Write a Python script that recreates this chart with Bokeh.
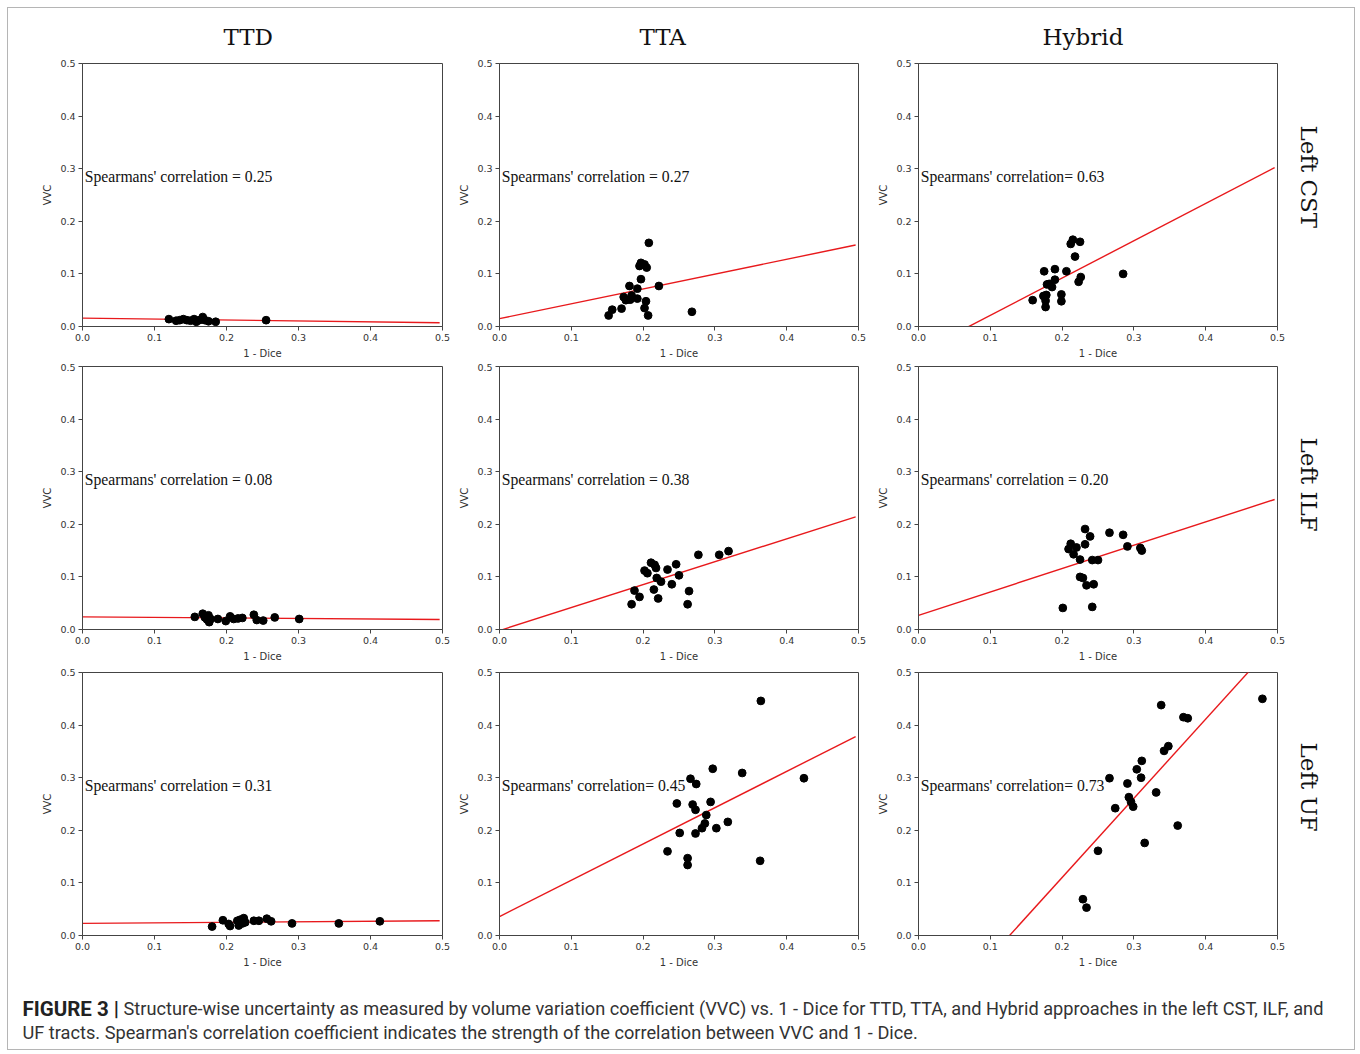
import math
from bokeh.plotting import figure
from bokeh.layouts import column, row
from bokeh.models import Range1d, Label, FixedTicker, PrintfTickFormatter, Title
from bokeh.embed import file_html
from bokeh.resources import INLINE

methods = ["TTD", "TTA", "Hybrid"]
tracts = ["Left CST", "Left ILF", "Left UF"]
axis_ticks = [0.0, 0.1, 0.2, 0.3, 0.4, 0.5]

# ---- data: 1 - Dice (x) and VVC (y) per tract / method ----
cst_ttd_x = [0.120, 0.130, 0.135, 0.140, 0.145, 0.150, 0.155, 0.158, 0.162, 0.167, 0.170, 0.175, 0.185, 0.255]
cst_ttd_y = [0.014, 0.011, 0.012, 0.014, 0.012, 0.011, 0.014, 0.009, 0.012, 0.018, 0.012, 0.010, 0.009, 0.012]

cst_tta_x = [0.152, 0.157, 0.170, 0.173, 0.176, 0.181, 0.182, 0.184, 0.192, 0.192, 0.195, 0.197, 0.197, 0.202, 0.205, 0.208, 0.202, 0.204, 0.207, 0.222, 0.268]
cst_tta_y = [0.021, 0.032, 0.034, 0.056, 0.050, 0.077, 0.051, 0.059, 0.072, 0.053, 0.115, 0.121, 0.090, 0.118, 0.112, 0.159, 0.035, 0.048, 0.021, 0.077, 0.028]

cst_hyb_x = [0.159, 0.175, 0.174, 0.177, 0.177, 0.178, 0.179, 0.182, 0.186, 0.190, 0.190, 0.199, 0.199, 0.206, 0.212, 0.215, 0.218, 0.225, 0.223, 0.226, 0.285]
cst_hyb_y = [0.050, 0.105, 0.058, 0.049, 0.037, 0.060, 0.080, 0.081, 0.075, 0.109, 0.089, 0.061, 0.048, 0.105, 0.157, 0.165, 0.133, 0.161, 0.085, 0.094, 0.100]

ilf_ttd_x = [0.156, 0.167, 0.170, 0.173, 0.175, 0.176, 0.178, 0.188, 0.199, 0.205, 0.210, 0.216, 0.222, 0.238, 0.242, 0.251, 0.267, 0.301]
ilf_ttd_y = [0.024, 0.030, 0.023, 0.019, 0.027, 0.014, 0.020, 0.020, 0.016, 0.025, 0.020, 0.021, 0.022, 0.028, 0.018, 0.017, 0.023, 0.020]

ilf_tta_x = [0.184, 0.188, 0.195, 0.202, 0.206, 0.211, 0.216, 0.218, 0.215, 0.219, 0.221, 0.225, 0.234, 0.240, 0.246, 0.250, 0.264, 0.262, 0.277, 0.306, 0.319]
ilf_tta_y = [0.048, 0.074, 0.062, 0.112, 0.107, 0.127, 0.123, 0.117, 0.076, 0.098, 0.059, 0.091, 0.114, 0.086, 0.124, 0.103, 0.073, 0.048, 0.142, 0.142, 0.149]

ilf_hyb_x = [0.201, 0.209, 0.212, 0.216, 0.220, 0.225, 0.225, 0.229, 0.232, 0.232, 0.234, 0.239, 0.242, 0.244, 0.242, 0.250, 0.266, 0.285, 0.291, 0.309, 0.311]
ilf_hyb_y = [0.041, 0.153, 0.163, 0.143, 0.156, 0.133, 0.100, 0.098, 0.191, 0.162, 0.084, 0.177, 0.132, 0.086, 0.043, 0.132, 0.184, 0.180, 0.158, 0.155, 0.150]

uf_ttd_x = [0.180, 0.195, 0.203, 0.205, 0.215, 0.217, 0.219, 0.222, 0.224, 0.226, 0.238, 0.245, 0.256, 0.262, 0.291, 0.356, 0.413]
uf_ttd_y = [0.017, 0.029, 0.022, 0.018, 0.028, 0.019, 0.030, 0.023, 0.033, 0.025, 0.028, 0.028, 0.032, 0.027, 0.023, 0.023, 0.027]

uf_tta_x = [0.234, 0.247, 0.251, 0.262, 0.262, 0.266, 0.269, 0.273, 0.274, 0.273, 0.282, 0.286, 0.288, 0.294, 0.297, 0.302, 0.318, 0.338, 0.363, 0.364, 0.424]
uf_tta_y = [0.160, 0.251, 0.195, 0.147, 0.134, 0.298, 0.249, 0.239, 0.288, 0.194, 0.204, 0.213, 0.229, 0.254, 0.317, 0.204, 0.216, 0.309, 0.142, 0.446, 0.299]

uf_hyb_x = [0.229, 0.234, 0.250, 0.266, 0.274, 0.291, 0.293, 0.296, 0.299, 0.304, 0.310, 0.311, 0.315, 0.331, 0.338, 0.342, 0.348, 0.361, 0.369, 0.375, 0.479]
uf_hyb_y = [0.069, 0.053, 0.161, 0.299, 0.242, 0.289, 0.263, 0.254, 0.245, 0.316, 0.300, 0.332, 0.176, 0.272, 0.438, 0.351, 0.360, 0.209, 0.415, 0.413, 0.450]

# fitted regression lines (intercept, slope) per panel, row-major
fit_intercepts = [0.016, 0.015, -0.0497, 0.024, -0.002, 0.027, 0.023, 0.036, -0.191]
fit_slopes = [-0.018, 0.282, 0.709, -0.010, 0.436, 0.444, 0.010, 0.690, 1.506]

spearman_texts = [
    "Spearmans' correlation = 0.25", "Spearmans' correlation = 0.27", "Spearmans' correlation= 0.63",
    "Spearmans' correlation = 0.08", "Spearmans' correlation = 0.38", "Spearmans' correlation = 0.20",
    "Spearmans' correlation = 0.31", "Spearmans' correlation= 0.45", "Spearmans' correlation= 0.73",
]

caption_bold = "FIGURE 3 |"
caption_line1 = ("Structure-wise uncertainty as measured by volume variation coefficient (VVC) vs. 1 - Dice "
                 "for TTD, TTA, and Hybrid approaches in the left CST, ILF, and")
caption_line2 = ("UF tracts. Spearman's correlation coefficient indicates the strength of the correlation "
                 "between VVC and 1 - Dice.")

panels_x = [cst_ttd_x, cst_tta_x, cst_hyb_x, ilf_ttd_x, ilf_tta_x, ilf_hyb_x, uf_ttd_x, uf_tta_x, uf_hyb_x]
panels_y = [cst_ttd_y, cst_tta_y, cst_hyb_y, ilf_ttd_y, ilf_tta_y, ilf_hyb_y, uf_ttd_y, uf_tta_y, uf_hyb_y]

# ---- layout geometry ----
FRAME_H = 263
col_left = [74, 44, 42]
col_frame_w = [360, 359, 360]
col_right = [13, 17, 77]
row_top = [55, 3, 6]
row_bottom = [37, 37, 37]
title_offset = [141, 140, 124]
rowlabel_offset = [62, 71, 70]

AX = "#444444"
TICK = "#333333"

rows = []
for r in range(3):
    figs = []
    for c in range(3):
        k = r * 3 + c
        p = figure(
            width=col_left[c] + col_frame_w[c] + col_right[c],
            height=row_top[r] + FRAME_H + row_bottom[r],
            x_range=Range1d(0, 0.5), y_range=Range1d(0, 0.5),
            output_backend="svg", toolbar_location=None,
            min_border_left=col_left[c], min_border_right=col_right[c],
            min_border_top=row_top[r], min_border_bottom=row_bottom[r],
            x_axis_label="1 - Dice", y_axis_label="VVC",
        )
        p.xgrid.visible = False
        p.ygrid.visible = False
        p.outline_line_color = AX
        p.outline_line_width = 1
        p.outline_line_alpha = 1
        for ax in (p.xaxis[0], p.yaxis[0]):
            ax.ticker = FixedTicker(ticks=axis_ticks)
            ax.formatter = PrintfTickFormatter(format="%.1f")
            ax.axis_line_color = AX
            ax.major_tick_line_color = AX
            ax.major_tick_out = 4
            ax.major_tick_in = 0
            ax.minor_tick_line_color = None
            ax.major_label_text_font = "DejaVu Sans"
            ax.major_label_text_font_size = "9.5px"
            ax.major_label_text_color = TICK
            ax.major_label_standoff = 3
            ax.axis_label_text_font = "DejaVu Sans"
            ax.axis_label_text_font_size = "10px"
            ax.axis_label_text_font_style = "normal"
            ax.axis_label_text_color = TICK
            ax.axis_label_standoff = 4

        xs = [0.0, 0.496]
        ys = [fit_intercepts[k] + fit_slopes[k] * v for v in xs]
        p.line(xs, ys, line_color="#e8191c", line_width=1.4)
        p.scatter(panels_x[k], panels_y[k], size=7.8, fill_color="black", line_color="black")

        p.add_layout(Label(x=0.003, y=0.285, text=spearman_texts[k], text_font="Liberation Serif",
                           text_font_size="15.7px", text_baseline="middle", text_color="#111111"))

        if r == 0:
            p.add_layout(Title(text=methods[c], align="left", offset=title_offset[c],
                               standoff=27, text_font="DejaVu Serif",
                               text_font_size="23px", text_font_style="normal",
                               text_color="#111111"), "above")
        if c == 2:
            p.add_layout(Title(text=tracts[r], align="left", offset=rowlabel_offset[r],
                               standoff=36, text_font="DejaVu Serif", text_font_size="23px",
                               text_font_style="normal", text_color="#111111"), "right")
        figs.append(p)
    rows.append(row(*figs, spacing=0))

cap = figure(width=1346, height=77, x_range=Range1d(0, 1346), y_range=Range1d(0, 77),
             output_backend="svg", toolbar_location=None, min_border=0,
             x_axis_location=None, y_axis_location=None)
cap.xgrid.visible = False
cap.ygrid.visible = False
cap.outline_line_color = None
CAPFONT = "'Liberation Sans Narrow', 'Arial Narrow', 'Roboto', sans-serif"
cap.add_layout(Label(x=14, y=41, x_units="screen", y_units="screen", text=caption_bold,
                     text_font=CAPFONT, text_font_size="20.5px", text_font_style="bold",
                     text_baseline="middle", text_color="#222222"))
cap.add_layout(Label(x=115, y=41, x_units="screen", y_units="screen", text=caption_line1,
                     text_font=CAPFONT, text_font_size="18.2px", text_baseline="middle",
                     text_color="#333333"))
cap.add_layout(Label(x=14, y=17, x_units="screen", y_units="screen", text=caption_line2,
                     text_font=CAPFONT, text_font_size="18.2px", text_baseline="middle",
                     text_color="#333333"))

layout = column(*rows, cap, spacing=0, margin=(7, 0, 0, 7),
                styles={"border": "1px solid #b5b5b5"})

open("out.html", "w").write(file_html(layout, INLINE))
